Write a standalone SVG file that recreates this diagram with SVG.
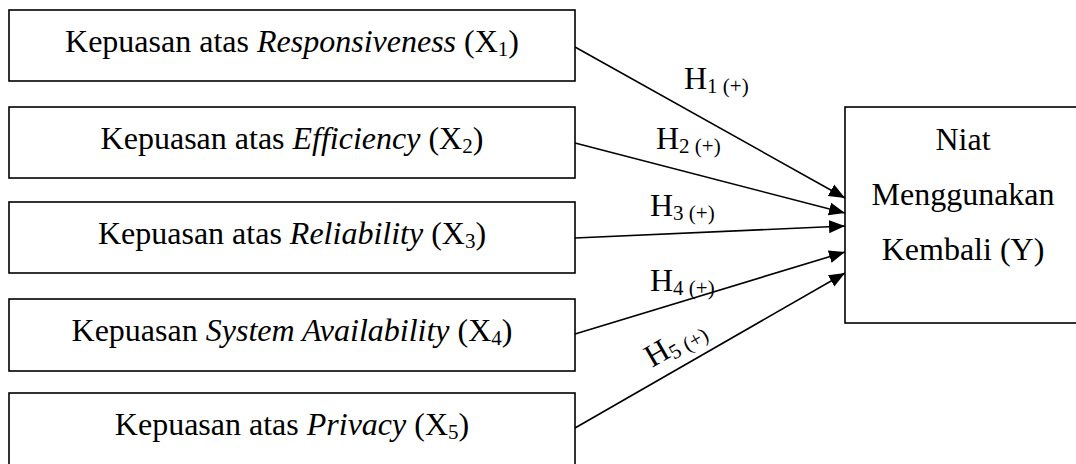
<svg xmlns="http://www.w3.org/2000/svg" width="1076" height="464" viewBox="0 0 1076 464">
  <defs>
    <style>
      .box { fill: #fff; stroke: #000; stroke-width: 1.6; }
      .lbl { font-family: "Liberation Serif", "Times New Roman", serif; font-size: 32px; fill: #000; }
      .mid { text-anchor: middle; }
      .it { font-style: italic; }
      .sub { font-size: 21px; }
      .edge { stroke: #000; stroke-width: 1.6; fill: none; marker-end: url(#arrow); }
    </style>
    <marker id="arrow" markerUnits="userSpaceOnUse" markerWidth="17" markerHeight="14" refX="16" refY="7" orient="auto">
      <path d="M0,0.5 L16,7 L0,13.5 z" fill="#000"/>
    </marker>
  </defs>
  <rect width="1076" height="464" fill="#fff"/>

  <!-- connectors with hypothesis labels -->
  <g id="connectors">
    <line class="edge" x1="575" y1="47" x2="845" y2="198"/>
    <line class="edge" x1="575" y1="143" x2="845" y2="213"/>
    <line class="edge" x1="575" y1="238" x2="845" y2="226"/>
    <line class="edge" x1="575" y1="334" x2="845" y2="252"/>
    <line class="edge" x1="575" y1="428" x2="845" y2="273"/>
    <text class="lbl" x="684" y="89">H<tspan class="sub" dy="4">1 (+)</tspan></text>
    <text class="lbl" x="656" y="149">H<tspan class="sub" dy="4">2 (+)</tspan></text>
    <text class="lbl" x="650" y="216">H<tspan class="sub" dy="4">3 (+)</tspan></text>
    <text class="lbl" x="650" y="291">H<tspan class="sub" dy="4">4 (+)</tspan></text>
    <text class="lbl" transform="translate(652,368) rotate(-30)">H<tspan class="sub" dy="4">5 (+)</tspan></text>
  </g>

  <g id="x1">
    <rect class="box" x="9" y="10" width="566" height="71"/>
    <text class="lbl mid" x="292" y="52">Kepuasan atas <tspan class="it">Responsiveness</tspan> (X<tspan class="sub" dy="4">1</tspan><tspan dy="-4">)</tspan></text>
  </g>
  <g id="x2">
    <rect class="box" x="9" y="107" width="566" height="71"/>
    <text class="lbl mid" x="292" y="149">Kepuasan atas <tspan class="it">Efficiency</tspan> (X<tspan class="sub" dy="4">2</tspan><tspan dy="-4">)</tspan></text>
  </g>
  <g id="x3">
    <rect class="box" x="9" y="202" width="566" height="71"/>
    <text class="lbl mid" x="292" y="244">Kepuasan atas <tspan class="it">Reliability</tspan> (X<tspan class="sub" dy="4">3</tspan><tspan dy="-4">)</tspan></text>
  </g>
  <g id="x4">
    <rect class="box" x="9" y="299" width="566" height="72"/>
    <text class="lbl mid" x="292" y="341">Kepuasan <tspan class="it">System Availability</tspan> (X<tspan class="sub" dy="4">4</tspan><tspan dy="-4">)</tspan></text>
  </g>
  <g id="x5">
    <rect class="box" x="9" y="393" width="566" height="80"/>
    <text class="lbl mid" x="292" y="435">Kepuasan atas <tspan class="it">Privacy</tspan> (X<tspan class="sub" dy="4">5</tspan><tspan dy="-4">)</tspan></text>
  </g>

  <g id="y">
    <rect class="box" x="845" y="107" width="240" height="216"/>
    <text class="lbl mid" x="963" y="150">Niat</text>
    <text class="lbl mid" x="963" y="205">Menggunakan</text>
    <text class="lbl mid" x="963" y="260">Kembali (Y)</text>
  </g>
</svg>
